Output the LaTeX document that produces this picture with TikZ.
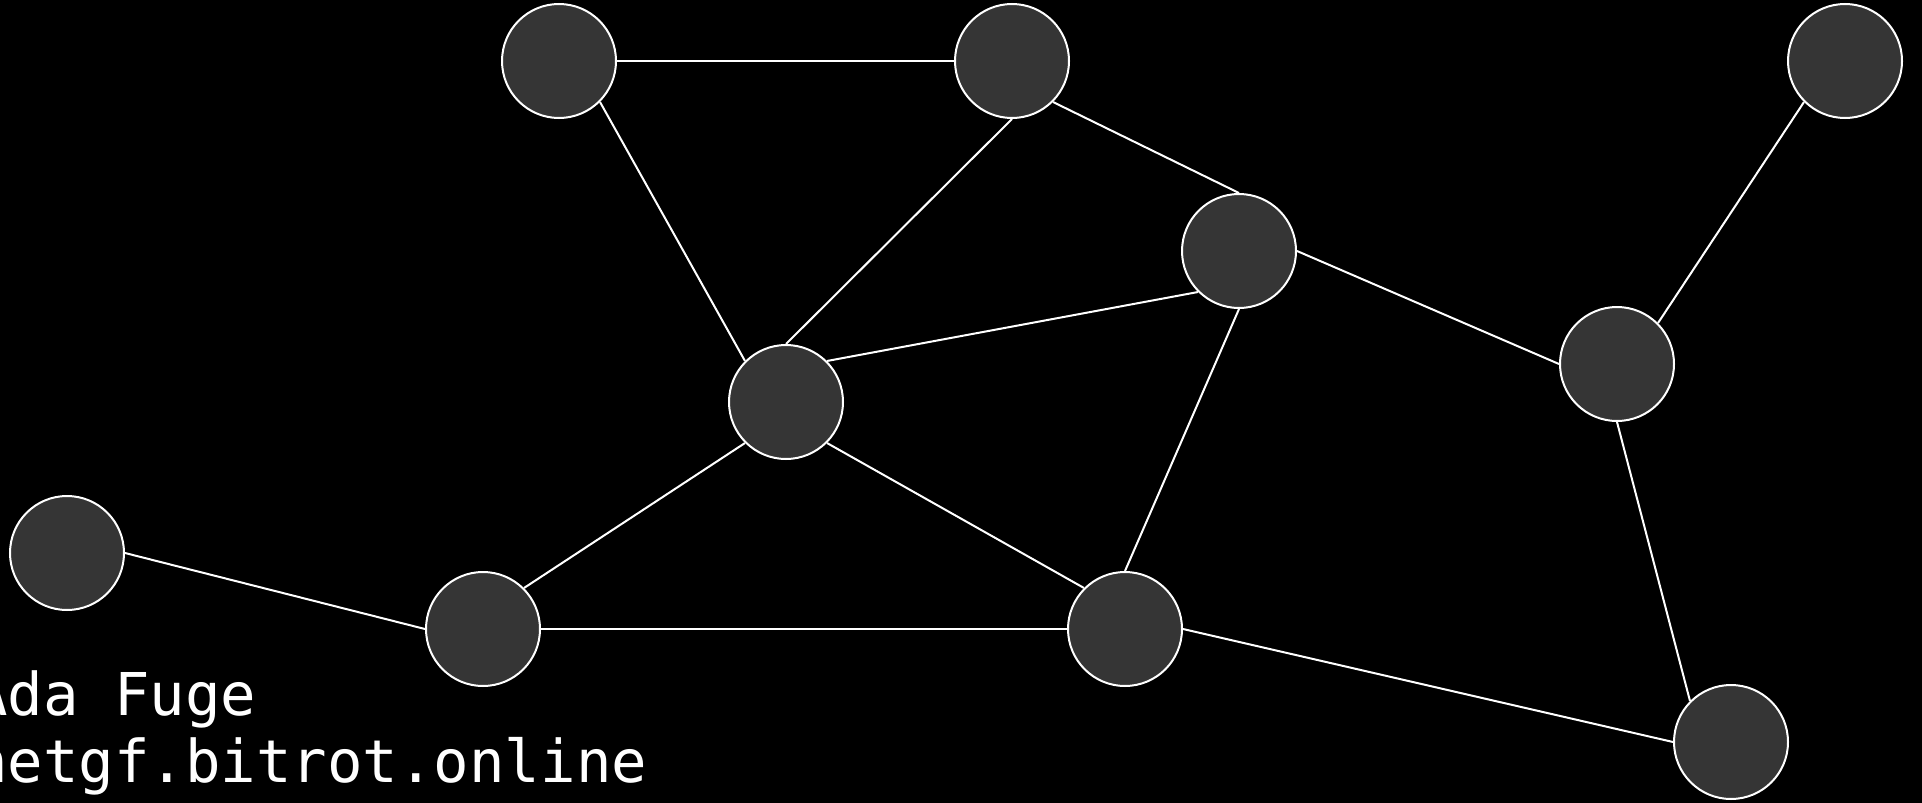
\documentclass[tikz,border=0pt]{standalone}
\usepackage{fontspec}
\newfontfamily\creditfont{DejaVu Sans Mono}
\usetikzlibrary{positioning}
\definecolor{nodegray}{RGB}{53,53,53}
\tikzset{
  vert/.style={circle, draw=white, line width=2pt, fill=nodegray,
               minimum size=114pt, inner sep=0pt},
  link/.style={draw=white, line width=2pt},
  credit/.style={text=white, inner sep=0pt, anchor=base west,
                 font=\creditfont\fontsize{59}{67}\selectfont},
}

\begin{document}
\begin{tikzpicture}[x=1pt, y=-1pt]
  \useasboundingbox (0,0) rectangle (1922,803);
  \fill[black] (0,0) rectangle (1922,803);
  \node[vert] (a) at (559,61) {};
  \node[vert] (b) at (1012,61) {};
  \node[vert] (c) at (1845,61) {};
  \node[vert] (d) at (1239,251) {};
  \node[vert] (e) at (786,402) {};
  \node[vert] (f) at (1617,364) {};
  \node[vert] (g) at (67,553) {};
  \node[vert] (h) at (483,629) {};
  \node[vert] (i) at (1125,629) {};
  \node[vert] (j) at (1731,742) {};
  % edges snap to compass anchors
  \draw[link] (a.east) -- (b.west);
  \draw[link] (a.south east) -- (e.north west);
  \draw[link] (b.south) -- (e.north);
  \draw[link] (b.south east) -- (d.north);
  \draw[link] (d.south west) -- (e.north east);
  \draw[link] (d.east) -- (f.west);
  \draw[link] (d.south) -- (i.north);
  \draw[link] (f.north east) -- (c.south west);
  \draw[link] (f.south) -- (j.north west);
  \draw[link] (e.south west) -- (h.north east);
  \draw[link] (e.south east) -- (i.north west);
  \draw[link] (h.east) -- (i.west);
  \draw[link] (g.east) -- (h.west);
  \draw[link] (i.east) -- (j.west);
  \node[credit] (author) at (-28,715) {Ada Fuge};
  \node[credit] (site) at (-28,782) {netgf.bitrot.online};
\end{tikzpicture}
\end{document}
